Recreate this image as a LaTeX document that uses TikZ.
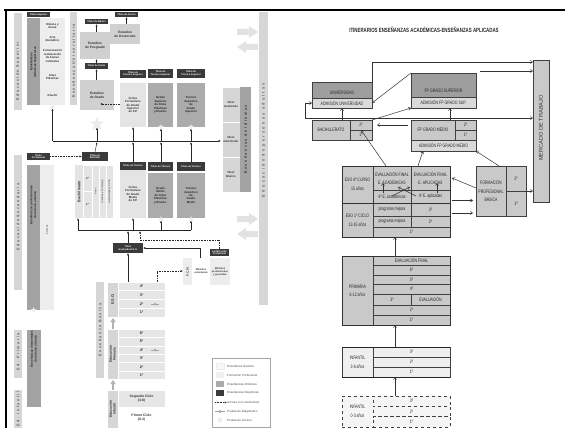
\documentclass[tikz,border=0pt]{standalone}
\usepackage{fontspec}
\setmainfont{Liberation Sans}
\newfontfamily\cnd[FakeStretch=0.72]{Liberation Sans}
\newfontfamily\spc[LetterSpace=40]{Liberation Sans}
\newfontfamily\spcw[LetterSpace=60]{Liberation Sans}
\usetikzlibrary{shapes.geometric,arrows.meta}
\definecolor{lblk}{HTML}{3A3A3A}
\definecolor{barg}{HTML}{D6D6D6}
\definecolor{artg}{HTML}{A3A3A3}
\definecolor{litec}{HTML}{EDEDED}
\definecolor{estg}{HTML}{D0D0D0}
\definecolor{fpg}{HTML}{E4E4E4}
\definecolor{midg}{HTML}{ABABAB}
\definecolor{rowg}{HTML}{E6E6E6}
\definecolor{starc}{HTML}{ECECEC}
\definecolor{bigc}{HTML}{E2E2E2}
\definecolor{rdark}{HTML}{9E9E9E}
\definecolor{rmid}{HTML}{C9C9C9}
\definecolor{rlite}{HTML}{DADADA}
\definecolor{rvl}{HTML}{EFEFEF}
\newcommand\bx[7]{\node[#6,anchor=north west,minimum width=#4pt,minimum height=#5pt,inner sep=0pt,outer sep=0pt,align=center] (#1) at (#2,#3) {#7};}
\tikzset{
 lab/.style={fill=lblk,text=white,font=\bfseries\fontsize{2.4}{2.7}\selectfont},
 bar/.style={fill=barg},
 bartx/.style={rotate=90,text=black!65,font=\spc\bfseries\fontsize{3.7}{4}\selectfont,inner sep=0pt},
 dark/.style={fill=artg},
 darktx/.style={rotate=90,text=black!85,font=\bfseries\fontsize{3.1}{3.7}\selectfont,inner sep=0pt,align=center},
 lite/.style={fill=litec},
 est/.style={fill=estg,text=black!80,font=\bfseries\fontsize{3.3}{3.9}\selectfont},
 fp/.style={fill=fpg,text=black!80,font=\bfseries\fontsize{2.9}{3.4}\selectfont},
 art/.style={fill=midg,text=black!85,font=\bfseries\fontsize{2.9}{3.4}\selectfont},
 tx/.style={text=black!80,font=\bfseries\fontsize{2.9}{3.4}\selectfont,align=center,inner sep=0pt},
 vtx/.style={tx,rotate=90},
 rowb/.style={fill=rowg,draw=white,line width=0.6pt,text=black!85,font=\bfseries\fontsize{3.7}{4}\selectfont},
 arr/.style={-{Latex[length=2.4pt,width=2pt]},line width=0.45pt,black!85},
 darr/.style={arr,dash pattern=on 0.8pt off 0.8pt},
 garr/.style={-{Triangle[length=4pt,width=5pt]},line width=2pt,gray!60},
 starn/.style={star,star points=5,star point ratio=2.4,fill=starc,inner sep=0pt},
 rc/.style={draw=black!75,line width=0.5pt,text=black!85,font=\cnd\fontsize{4.9}{5.8}\selectfont},
 rtx/.style={text=black!85,font=\cnd\fontsize{4.9}{5.8}\selectfont,inner sep=0pt,align=center},
 rarr/.style={-{Straight Barb[length=2.2pt,width=3pt]},line width=0.5pt,black!80},
 legtx/.style={anchor=west,text=black!70,font=\fontsize{3}{3.4}\selectfont,inner sep=0pt},
}
\begin{document}
\begin{tikzpicture}[x=1pt,y=-1pt]
\useasboundingbox (0,0) rectangle (565,428);
\fill[white] (0,0) rectangle (565,428);
\draw[line width=1.6pt] (4,10) -- (565,10);
\draw[line width=1.6pt] (6,10) -- (6,428);

% ---------- Educacion Superior
\bx{edsup}{14}{13}{8}{97}{bar}{}
\node[bartx] (edsupt) at (18,71) {Educación Superior};
\bx{titsup}{27}{12}{23}{5}{lab}{Título Superior}
\bx{artsup}{27}{18}{13}{87}{dark}{}
\node[darktx] (artsupt) at (33.5,62) {Enseñanzas\\Artísticas Superiores};
\bx{artlist}{40}{18}{25}{87}{lite}{}
\node[tx] (m1) at (52.5,26) {Música y\\danza};
\node[tx] (m2) at (52.5,39) {Arte\\dramático};
\node[tx] (m3) at (52.5,56) {Conservación\\restauración\\de bienes\\culturales};
\node[tx] (m4) at (52.5,77) {Artes\\Plásticas};
\node[tx] (m5) at (52.5,95) {Diseño};
\bx{ensuni}{70}{12}{7}{93}{bar}{}
\node[bartx] (ensunit) at (73.5,61) {Enseñanza Universitaria};
\bx{titmas}{85}{19}{23}{5}{lab}{Título de Máster}
\bx{posg}{80}{32}{30}{27}{est}{Estudios\\de Posgrado}
\bx{titdoc}{115}{12}{23}{5}{lab}{Título de Doctor}
\bx{doct}{110}{24}{30}{20}{est}{Estudios\\de Doctorado}
\bx{titgra}{85}{63}{23}{6}{lab}{Título de Grado}
\bx{grado}{80}{80}{34}{30}{est}{Estudios\\de Grado}
\bx{tts1}{120}{70}{26}{8}{lab}{Título de\\Técnico Superior}
\bx{tts2}{148}{69}{25}{9}{lab}{Título de\\Técnico Superior}
\bx{tts3}{177}{69}{28}{9}{lab}{Título de\\Técnico Superior}
\bx{cfgs}{120}{83}{26}{44}{fp}{Ciclos\\Formativos\\de Grado\\Superior\\de F.P.}
\bx{apgs}{148}{83}{25}{44}{art}{Grado\\Superior\\de Artes\\Plásticas\\y Diseño.}
\bx{tdgs}{177}{83}{28}{44}{art}{Técnico\\deportivo\\de\\Grado\\Superior}
\node[starn,minimum size=6pt] (st1) at (52.5,107) {};
\node[starn,minimum size=15pt] (st2) at (97,124) {};
\node[starn,minimum size=6pt] (st3) at (161,127) {};
\node[starn,minimum size=6pt] (st4) at (191,127) {};
\draw[arr] (grado.north -| titgra.south) -- (titgra.south);
\draw[arr] (titgra.north) -- (posg.south -| titgra.north);
\draw[arr] (posg.north -| titmas.south) -- (titmas.south);
\draw[arr] (doct.north -| titdoc.south) -- (titdoc.south);
\draw[darr] (cfgs.west |- 0,104) -- (100,104);
\coordinate (h1a) at (52.5,141);
\coordinate (h1b) at (221,141);
\draw[line width=0.45pt,black!85] (h1a) -- (200,141);
\draw[arr] (200,141) -- (h1b);
\draw[arr] (h1a) -- (st1.south);
\draw[arr] (97,141) -- (st2.south);
\draw[arr] (133,141) -- (cfgs.south -| 133,0);
\draw[arr] (161,141) -- (st3.south);
\draw[arr] (191,141) -- (st4.south);

% idiomas y adultos
\bx{nav}{222}{87}{18}{35}{fill=barg,draw=white,line width=0.6pt,tx}{Nivel\\Avanzado}
\bx{nint}{222}{122}{18}{35}{fill=barg,draw=white,line width=0.6pt,tx}{Nivel\\Intermedio}
\bx{nbas}{222}{157}{18}{35}{fill=barg,draw=white,line width=0.6pt,tx}{Nivel\\Básico}
\bx{idi}{240}{87}{11}{105}{dark}{}
\node[bartx,text=black!80] (idit) at (245.5,139.5) {Enseñanzas de Idiomas};
\bx{adul}{259}{12}{9}{293}{bar}{}
\node[bartx,font=\spcw\bfseries\fontsize{3.8}{4}\selectfont] (adult) at (263.5,140) {Educación de personas adultas};
\foreach \yy in {32,219} {
 \fill[bigc] (237,\yy-3) -- (249,\yy-3) -- (249,\yy-6) -- (258,\yy) -- (249,\yy+6) -- (249,\yy+3) -- (237,\yy+3) -- cycle;
 \fill[bigc] (258,\yy+12) -- (246,\yy+12) -- (246,\yy+9) -- (237,\yy+15) -- (246,\yy+21) -- (246,\yy+18) -- (258,\yy+18) -- cycle;
}

% ---------- Educacion Secundaria
\bx{edsec}{14}{155}{8}{135}{bar}{}
\node[bartx] (edsect) at (18,217) {Educación Secundaria};
\bx{titprof}{27}{153}{23}{7}{lab}{Título\\Profesional}
\bx{profmus}{27}{165}{13}{145}{dark}{}
\node[darktx] (profmust) at (33.5,205) {Enseñanzas profesionales\\de música y danza};
\bx{profl}{40}{165}{14}{145}{lite}{}
\node[vtx,font=\fontsize{2.6}{3}\selectfont] (cursos) at (47,230) {6 cursos};
\node[starn,minimum size=6pt] (st5) at (33.5,310) {};
\bx{titbac}{82}{152}{26}{9}{lab}{Título de\\Bachiller}
\draw[darr] (titprof.east) -- (titbac.west);
\draw[arr] (titbac.north) -- (97,142);
\bx{bach}{75}{165}{38}{53}{fill=fpg}{}
\node[vtx,font=\bfseries\fontsize{3.7}{4}\selectfont] (bachl) at (79,191.5) {Bachillerato};
\bx{b2}{83}{165}{9}{26}{fill=fpg,draw=white,line width=0.5pt,tx}{2º}
\bx{b1}{83}{191}{9}{27}{fill=fpg,draw=white,line width=0.5pt,tx}{1º}
\bx{bart}{92}{165}{7}{53}{draw=white,line width=0.5pt}{}
\bx{bcie}{99}{165}{7}{53}{draw=white,line width=0.5pt}{}
\bx{bhum}{106}{165}{7}{53}{draw=white,line width=0.5pt}{}
\node[vtx,font=\fontsize{2.4}{3}\selectfont] (bartt) at (95.5,191.5) {Artes};
\node[vtx,font=\fontsize{2.4}{3}\selectfont] (bciet) at (102.5,191.5) {Ciencias y Tecnología};
\node[vtx,font=\fontsize{2.4}{3}\selectfont] (bhumt) at (109.5,191.5) {Humanidades y CCSS};
\bx{tt1}{120}{162}{26}{8}{lab}{Título de Técnico}
\bx{cfgm}{120}{170}{26}{48}{fp}{Ciclos\\Formativos\\de Grado\\Medio\\de F.P.}
\bx{tt2}{148}{162}{25}{9}{lab}{Título de Técnico}
\bx{apgm}{148}{173}{25}{45}{art}{Grado\\Medio\\de Artes\\Plásticas\\y Diseño.}
\bx{tt3}{177}{162}{28}{9}{lab}{Título de Técnico}
\bx{tdgm}{177}{173}{28}{45}{art}{Técnico\\deportivo\\de\\Grado\\Medio}
\node[starn,minimum size=6pt] (st6) at (161,219) {};
\node[starn,minimum size=6pt] (st7) at (191,219) {};
\draw[arr] (tt1.north -| 133,0) -- (133,142);
\draw[arr] (tt2.north -| 161,0) -- (161,142);
\draw[arr] (tt3.north -| 191,0) -- (191,142);
\coordinate (h2a) at (78,230);
\coordinate (h2b) at (191,230);
\draw[line width=0.45pt,black!85] (h2a) -- (h2b);
\draw[arr] (h2a) -- (bach.south -| h2a);
\draw[arr] (133,230) -- (cfgm.south -| 133,0);
\draw[arr] (161,230) -- (st6.south);
\draw[arr] (h2b) -- (st7.south);
\bx{titgeso}{113}{243}{30}{10}{lab}{Título\\Graduado E.S.O.}
\draw[arr] (titgeso.north -| 128,0) -- (128,231);
\bx{cert}{210}{249}{19}{7}{lab}{Certificación\\Profesional}
\bx{pcpi}{183}{258}{47}{27}{fill=litec}{}
\node[vtx] (pcpil) at (187.5,271.5) {P.C.P.I.};
\bx{modv}{192}{258}{18}{27}{fill=white,tx,font=\bfseries\fontsize{2.5}{3}\selectfont}{Módulos\\voluntarios}
\bx{modp}{210}{258}{20}{27}{fill=litec,tx,font=\bfseries\fontsize{2.5}{3}\selectfont}{Módulos\\profesionales\\y generales}
\draw[arr] (pcpi.north -| 200,0) -- (200,248) -- (titgeso.east |- 0,248);
\draw[darr] (cert.north) -- (cert.north |- 0,240) -- (140,240) -- (140,231);

% ---------- Ensenanza Basica
\bx{ensbas}{96}{282}{8}{96}{bar}{}
\node[bartx] (ensbast) at (100,330) {Enseñanza Básica};
\bx{eso}{107}{282}{11}{35}{fill=barg,draw=white,line width=0.6pt}{}
\node[vtx,font=\bfseries\fontsize{3.7}{4}\selectfont] (esot) at (112.5,299.5) {E.S.O.};
\foreach \t [count=\i from 0] in {4º,3º,2º,1º} {
 \bx{esor\i}{118}{282+8.75*\i}{47}{8.75}{rowb}{\t}
}
\draw[darr] (esor0.north -| 157,0) -- (157,271) -- (pcpi.west |- 0,271);
\draw[arr] (esor0.north -| 128,0) -- (titgeso.south -| 128,0);
\draw[garr] (113,329) -- (113,318);
\bx{prim}{107}{329}{11}{50}{fill=barg,draw=white,line width=0.6pt}{}
\node[vtx,font=\bfseries\fontsize{3.4}{3.8}\selectfont] (primt) at (112.5,354) {Educación\\Primaria};
\foreach \t [count=\i from 0] in {6º,5º,4º,3º,2º,1º} {
 \bx{prir\i}{118}{329+8.4*\i}{47}{8.4}{rowb}{\t}
}
\draw[garr] (113,391) -- (113,380);
\bx{infl}{107}{390}{11}{38}{fill=barg,draw=white,line width=0.6pt}{}
\node[vtx,font=\bfseries\fontsize{3.4}{3.8}\selectfont] (inflt) at (112.5,409) {Educación\\Infantil};
\bx{seg}{118}{390}{47}{17}{fill=rowg,draw=white,line width=0.6pt,tx,font=\bfseries\fontsize{3.4}{4}\selectfont}{Segundo Ciclo\\(3-6)}
\bx{pri}{118}{407}{47}{21}{fill=white,tx,font=\bfseries\fontsize{3.4}{4}\selectfont}{Primer Ciclo\\(0-3)}
\foreach \yy/\nm in {304/da,350/db} {
 \node[diamond,fill=gray!70,minimum size=3pt,inner sep=0pt] (\nm) at (155,\yy) {};
 \draw[gray!70,line width=0.5pt] (151,\yy) -- (159,\yy);
}
\bx{edpri}{14}{330}{8}{48}{bar}{}
\node[bartx] (edprit) at (18,352) {Ed. Primaria};
\bx{edinf}{14}{390}{8}{38}{bar}{}
\node[bartx] (edinft) at (18,409) {Ed. Infantil};
\bx{elmus}{27}{330}{14}{77}{dark}{}
\node[darktx] (elmust) at (34,349) {Enseñanzas elementales\\de música y danza};

% leyenda
\bx{leg}{212}{358}{58}{69}{draw=black!35,fill=white,line width=0.4pt}{}
\bx{lg1}{216}{363}{8}{6}{fill=gray!6,draw=gray!15}{}
\bx{lg2}{216}{372}{8}{6}{fill=gray!12}{}
\bx{lg3}{216}{381}{8}{6}{fill=midg}{}
\bx{lg4}{216}{390}{8}{6}{fill=lblk}{}
\node[legtx] (lt1) at (227,366) {Enseñanza Gratuita};
\node[legtx] (lt2) at (227,375) {Formación Profesional};
\node[legtx] (lt3) at (227,384) {Enseñanzas Artísticas};
\node[legtx] (lt4) at (227,393) {Enseñanzas Deportivas};
\node[legtx] (lt5) at (227,402.5) {Acceso con condiciones};
\node[legtx] (lt6) at (227,411.5) {Prueba de Diagnóstico};
\node[legtx] (lt7) at (227,420) {Prueba de Acceso};
\coordinate (la) at (215,402.5);
\draw[darr] (la) -- (lt5.west);
\node[diamond,fill=gray!70,minimum size=3.5pt,inner sep=0pt] (ld) at (220,411.5) {};
\draw[gray!70,line width=0.6pt] (215,411.5) -- (225,411.5);
\node[starn,minimum size=7pt] (ls) at (220,420) {};

% ---------- panel derecho
\node[font=\cnd\bfseries\fontsize{6.1}{6.5}\selectfont,text=black!85] (title) at (424,30) {ITINERARIOS ENSEÑANZAS ACADÉMICAS-ENSEÑANZAS APLICADAS};
\bx{uni}{312}{82}{60}{16}{rc,fill=rdark}{}
\node[rtx] (unit) at (342,92.5) {UNIVERSIDAD};
\bx{admuni}{312}{98}{60}{10}{rc,fill=rlite}{ADMISIÓN UNIVERSIDAD}
\bx{fpgs}{411}{73}{65}{24}{rc,fill=rdark}{}
\node[rtx] (fpgst) at (443.5,91) {FP GRADO SUPERIOR};
\bx{admfpgs}{411}{97}{65}{11}{rc,fill=rlite}{ADMISIÓN FP GRADO SUP.}
\bx{merc}{533}{60}{16}{142}{rc,fill=rmid}{}
\node[rotate=90,text=black!80,font=\fontsize{5.6}{6}\selectfont,inner sep=0pt] (merct) at (541,128) {MERCADO DE TRABAJO};
\bx{bachr}{312}{120}{38}{20}{rc,fill=rmid}{BACHILLERATO}
\bx{bach2}{350}{120}{22}{10}{rc,fill=rmid}{2º}
\bx{bach1}{350}{130}{22}{10}{rc,fill=rmid}{1º}
\bx{fpgm}{411}{120}{44}{20}{rc,fill=rmid}{FP GRADO MEDIO}
\bx{fpgm2}{455}{120}{21}{10}{rc,fill=rmid}{2º}
\bx{fpgm1}{455}{130}{21}{10}{rc,fill=rmid}{1º}
\bx{admfpgm}{411}{140}{65}{11}{rc,fill=rlite}{ADMISIÓN FP GRADO MEDIO}
\bx{eso4}{342}{166}{31}{37}{rc,fill=rmid,line width=0.8pt}{ESO 4º CURSO\\[3pt]15 años}
\bx{evac}{373}{166}{38}{24}{rc,fill=rmid}{EVALUACIÓN FINAL\\[2pt]E. ACADÉMICAS}
\bx{evap}{411}{166}{39}{24}{rc,fill=rmid}{EVALUACIÓN FINAL\\[2pt]E. APLICADAS}
\bx{cac}{373}{190}{38}{13}{rc,fill=rmid}{4º E. académicas}
\bx{cap}{411}{190}{39}{13}{rc,fill=rmid}{4º E. aplicadas}
\bx{eso1}{342}{203}{31}{34}{rc,fill=rmid,line width=0.8pt}{ESO 1º CICLO\\[3pt]13-15 años}
\bx{pm1}{373}{203}{38}{13}{rc,fill=rmid}{programa mejora}
\bx{pm2}{373}{216}{38}{11}{rc,fill=rmid}{programa mejora}
\bx{e3}{411}{203}{39}{13}{rc,fill=rmid}{3º}
\bx{e2}{411}{216}{39}{11}{rc,fill=rmid}{2º}
\bx{e1}{373}{227}{77}{10}{rc,fill=rmid}{1º}
\draw[line width=0.9pt,black!80] (eso4.north west) rectangle (e1.south east);
\draw[line width=0.9pt,black!80] (eso1.north west) -- (e3.north east);
\bx{fpb}{476}{166}{30}{50}{rc,fill=rmid,line width=0.8pt}{FORMACIÓN\\[3pt]PROFESIONAL\\[3pt]BÁSICA}
\bx{fpb2}{506}{166}{20}{25}{rc,fill=rmid,line width=0.8pt}{2º}
\bx{fpb1}{506}{191}{20}{25}{rc,fill=rmid,line width=0.8pt}{1º}
\bx{prim}{342}{256}{31}{69}{rc,fill=rmid,line width=0.8pt}{PRIMARIA\\[2pt]6-12 años}
\bx{pev}{373}{256}{77}{9.5}{rc,fill=rmid}{EVALUACIÓN FINAL}
\bx{p6}{373}{265.5}{77}{9.5}{rc,fill=rmid}{6º}
\bx{p5}{373}{275}{77}{9.5}{rc,fill=rmid}{5º}
\bx{p4}{373}{284.5}{77}{9.5}{rc,fill=rmid}{4º}
\bx{p3}{373}{294}{38}{11}{rc,fill=rmid}{3º}
\bx{pev3}{411}{294}{39}{11}{rc,fill=rmid}{EVALUACIÓN}
\bx{p2}{373}{305}{77}{10}{rc,fill=rmid}{2º}
\bx{p1}{373}{315}{77}{10}{rc,fill=rmid}{1º}
\draw[line width=0.9pt,black!80] (prim.north west) rectangle (p1.south east);
\bx{inf3}{342}{347}{31}{30}{rc,fill=rvl}{INFANTIL\\[3pt]3-6 años}
\bx{i3}{373}{347}{77}{10}{rc,fill=rvl}{3º}
\bx{i2}{373}{357}{77}{10}{rc,fill=rvl}{2º}
\bx{i1}{373}{367}{77}{10}{rc,fill=rvl}{1º}
\draw[line width=1pt,black!85] (inf3.north west) -- (i3.north east) (inf3.south west) -- (i1.south east);
\bx{inf0}{342}{396}{31}{31}{rc,fill=rvl!60,dashed}{INFANTIL\\[3pt]0-3 años}
\bx{j3}{373}{396}{77}{10.3}{rc,fill=rvl!60,dashed}{3º}
\bx{j2}{373}{406.3}{77}{10.3}{rc,fill=rvl!60,dashed}{2º}
\bx{j1}{373}{416.6}{77}{10.4}{rc,fill=rvl!60,dashed}{1º}

% flechas panel derecho
\coordinate (uc) at (372,62);
\draw[rarr] (uni.north east) -- (uc) -- (uc -| merc.west);
\coordinate (fc) at (480,71);
\draw[rarr] (fc) -- (fc -| merc.west);
\draw[rarr] (fpgs.north west) -- (admuni.east);
\coordinate (lp) at (305,118);
\draw[rarr] (lp) -- (lp |- admuni.west) -- (admuni.west);
\draw[rarr] (lp) -- (lp -| merc.west);
\draw[rarr] (bach2.north east) -- (admfpgs.south west);
\draw[rarr] ([xshift=11pt]bachr.north) -- ([xshift=11pt]bachr.north |- admuni.south);
\draw[rarr] ([xshift=17pt]fpgm.north) -- ([xshift=17pt]fpgm.north |- admfpgs.south);
\draw[rarr] ([shift={(-3pt,5pt)}]fpgm.west) -- ([xshift=5pt]bach2.east);
\draw[rarr] ([xshift=-6pt]evac.north) -- (bach2.south);
\draw[rarr] ([xshift=7pt]evap.north west) -- ([xshift=12pt]admfpgm.south west);
\draw[rarr] ([xshift=8pt]fpb.north) -- (admfpgm.south east);
\draw[rarr] ([yshift=3pt]fpb.west) -- ([xshift=2pt]evap.east);
\coordinate (ea) at (452,200.5);
\coordinate (eb) at (452,213);
\draw[rarr] (ea) -- ([xshift=-3pt]ea -| fpb.west);
\draw[rarr] (eb) -- ([xshift=-3pt]eb -| fpb.west);
\draw[rarr] (fpb1.north east) -- (fpb1.north east -| merc.west);
\coordinate (x1) at (383,193);
\coordinate (x2) at (437,193);
\draw[rarr] (x1) -- ++(0,-10);
\draw[rarr] (x2) -- ++(0,-10);
\draw[rarr] (392,196) -- (410,187);
\draw[rarr] (416,196) -- (398,187);
\draw[rarr] ([xshift=-16.5pt]pev.north) -- ([xshift=-16.5pt]e1.south);
\draw[rarr] ([xshift=-16.5pt]i3.north) -- ([xshift=-16.5pt]p1.south);
\draw[rarr] ([xshift=-16.5pt]j3.north) -- ([xshift=-16.5pt]i1.south);
\end{tikzpicture}
\end{document}
